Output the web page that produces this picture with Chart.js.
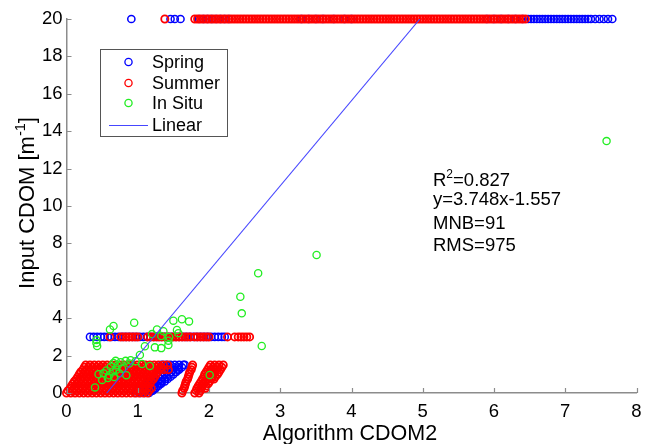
<!DOCTYPE html>
<html>
<head>
<meta charset="utf-8">
<script src="https://cdn.jsdelivr.net/npm/chart.js@4.4.1/dist/chart.umd.min.js"></script>
<style>
  body { margin: 0; background: #fff; }
  canvas { display: block; }
</style>
</head>
<body>
<canvas id="cdomChart" width="645" height="444"></canvas>
<script>
// tick labels
const xTicks = [0, 1, 2, 3, 4, 5, 6, 7, 8];
const yTicks = [0, 2, 4, 6, 8, 10, 12, 14, 16, 18, 20];

// Spring: row at 20, row at 3, and the low band (levels below)
const springTopX = [0.91, 1.46, 1.52, 1.60, 1.86, 1.92, 1.98, 2.04, 2.10, 2.16, 2.22, 2.28, 3.30, 3.40, 3.50, 3.60, 3.75, 3.90, 4.00,
  5.90, 6.00, 6.10, 6.20, 6.30, 6.40, 6.48, 6.52, 6.56, 6.60, 6.64, 6.68, 6.72, 6.76, 6.80, 6.84, 6.88, 6.92, 6.96, 7.00,
  7.04, 7.08, 7.12, 7.16, 7.20, 7.24, 7.28, 7.32, 7.36, 7.42, 7.48, 7.54, 7.60, 7.66];
const springRow3X = [0.33, 0.38, 0.43, 0.48, 0.53, 0.58, 0.63, 0.68, 0.73, 0.78, 0.83, 0.88, 0.93, 0.98, 1.03, 1.08, 1.13, 1.18,
  1.23, 1.28, 1.33, 1.38, 1.43, 1.48, 1.53, 1.58, 1.63, 1.68, 1.73, 1.78, 1.83, 1.88, 1.93, 1.98, 2.03, 2.08, 2.13, 2.18, 2.22];

const bandLevels = [0, 0.125, 0.25, 0.375, 0.5, 0.625, 0.75, 0.875, 1.0, 1.125, 1.25, 1.375, 1.5];
const springBandX = [
  [0.98, 1.04, 1.10, 1.16],
  [1.01, 1.07, 1.13, 1.19, 1.21],
  [1.05, 1.11, 1.17, 1.23, 1.25],
  [1.09, 1.15, 1.21, 1.27, 1.29],
  [1.13, 1.19, 1.25, 1.31, 1.33],
  [1.16, 1.22, 1.28, 1.34, 1.38],
  [1.20, 1.26, 1.32, 1.38, 1.42],
  [1.23, 1.29, 1.35, 1.41, 1.46],
  [1.26, 1.32, 1.38, 1.44, 1.50],
  [1.29, 1.35, 1.41, 1.47, 1.53, 1.54],
  [1.32, 1.38, 1.44, 1.50, 1.56, 1.58],
  [1.33, 1.39, 1.45, 1.51, 1.57, 1.62],
  [1.34, 1.40, 1.46, 1.52, 1.58, 1.64, 1.66]
];

// Summer
const summerTopX = [1.38, 1.80, 1.84, 1.88, 1.92, 1.96, 2.00, 2.04, 2.08, 2.12, 2.16, 2.20, 2.24, 2.28, 2.32, 2.36, 2.40, 2.44,
  2.48, 2.52, 2.56, 2.60, 2.64, 2.68, 2.72, 2.76, 2.80, 2.84, 2.88, 2.92, 2.96, 3.00, 3.04, 3.08, 3.12, 3.16, 3.20, 3.24,
  3.28, 3.32, 3.36, 3.40, 3.44, 3.48, 3.52, 3.56, 3.60, 3.64, 3.68, 3.72, 3.76, 3.80, 3.84, 3.88, 3.92, 3.96, 4.00, 4.04,
  4.08, 4.12, 4.16, 4.20, 4.24, 4.28, 4.32, 4.36, 4.40, 4.44, 4.48, 4.52, 4.56, 4.60, 4.64, 4.68, 4.72, 4.76, 4.80, 4.84,
  4.88, 4.92, 4.96, 5.00, 5.04, 5.08, 5.12, 5.16, 5.20, 5.24, 5.28, 5.32, 5.36, 5.40, 5.44, 5.48, 5.52, 5.56, 5.60, 5.64,
  5.68, 5.72, 5.76, 5.80, 5.84, 5.88, 5.92, 5.96, 6.00, 6.04, 6.08, 6.12, 6.16, 6.20, 6.24, 6.28, 6.32, 6.36, 6.40, 6.44];
const summerRow3X = [0.61, 0.76, 0.80, 0.84, 0.88, 0.92, 0.96, 1.00, 1.14, 1.18, 1.22, 1.26, 1.30, 1.34, 1.38, 1.42, 1.46,
  1.50, 1.54, 1.58, 1.62, 1.66, 1.70, 1.74, 1.80, 1.84, 1.88, 1.92, 1.96, 2.00, 2.26, 2.36, 2.41, 2.45, 2.49, 2.53, 2.57];
const summerBandX = [
  [0.00, 0.06, 0.12, 0.18, 0.24, 0.30, 0.36, 0.42, 0.48, 0.54, 0.60, 0.66, 0.72, 0.78, 0.84, 0.90, 0.96, 1.02, 1.08, 1.14, 1.62, 1.80, 1.86],
  [0.02, 0.08, 0.14, 0.20, 0.26, 0.32, 0.38, 0.44, 0.50, 0.56, 0.62, 0.68, 0.74, 0.80, 0.86, 0.92, 0.98, 1.04, 1.10, 1.16, 1.63, 1.82, 1.88],
  [0.05, 0.11, 0.17, 0.23, 0.29, 0.35, 0.41, 0.47, 0.53, 0.59, 0.65, 0.71, 0.77, 0.83, 0.89, 0.95, 1.01, 1.07, 1.13, 1.19, 1.65, 1.83, 1.89, 1.95],
  [0.07, 0.13, 0.19, 0.25, 0.31, 0.37, 0.43, 0.49, 0.55, 0.61, 0.67, 0.73, 0.79, 0.85, 0.91, 0.97, 1.03, 1.09, 1.15, 1.66, 1.85, 1.91, 1.96],
  [0.09, 0.15, 0.21, 0.27, 0.33, 0.39, 0.45, 0.51, 0.57, 0.63, 0.69, 0.75, 0.81, 0.87, 0.93, 0.99, 1.05, 1.11, 1.17, 1.67, 1.87, 1.93, 1.99],
  [0.11, 0.17, 0.23, 0.29, 0.35, 0.41, 0.47, 0.53, 0.59, 0.65, 0.71, 0.77, 0.83, 0.89, 0.95, 1.01, 1.07, 1.13, 1.19, 1.68, 1.89, 1.95, 2.01],
  [0.14, 0.20, 0.26, 0.32, 0.38, 0.44, 0.50, 0.56, 0.62, 0.68, 0.74, 0.80, 0.86, 0.92, 0.98, 1.04, 1.10, 1.16, 1.22, 1.70, 1.91, 1.97, 2.03, 2.07],
  [0.16, 0.22, 0.28, 0.34, 0.40, 0.46, 0.52, 0.58, 0.64, 0.70, 0.76, 0.82, 0.88, 0.94, 1.00, 1.06, 1.12, 1.18, 1.24, 1.71, 1.93, 1.99, 2.05, 2.09],
  [0.18, 0.24, 0.30, 0.36, 0.42, 0.48, 0.54, 0.60, 0.66, 0.72, 0.78, 0.84, 0.90, 0.96, 1.02, 1.08, 1.14, 1.20, 1.26, 1.72, 1.94, 2.00, 2.06, 2.12],
  [0.20, 0.26, 0.32, 0.38, 0.44, 0.50, 0.56, 0.62, 0.68, 0.74, 0.80, 0.86, 0.92, 0.98, 1.04, 1.10, 1.16, 1.22, 1.28, 1.73, 1.96, 2.02, 2.08, 2.14],
  [0.23, 0.29, 0.35, 0.41, 0.47, 0.53, 0.59, 0.65, 0.71, 0.77, 0.83, 0.89, 0.95, 1.01, 1.07, 1.13, 1.19, 1.25, 1.31, 1.37, 1.43, 1.75, 1.98, 2.04, 2.10, 2.16],
  [0.25, 0.31, 0.37, 0.43, 0.49, 0.55, 0.61, 0.67, 0.73, 0.79, 0.85, 0.91, 0.97, 1.03, 1.09, 1.15, 1.21, 1.27, 1.33, 1.76, 2.00, 2.06, 2.12, 2.18],
  [0.27, 0.33, 0.39, 0.45, 0.51, 0.57, 0.63, 0.69, 0.75, 0.81, 0.87, 0.93, 0.99, 1.05, 1.11, 1.17, 1.23, 1.29, 1.36, 1.42, 1.77, 2.02, 2.08, 2.14, 2.20]
];

// In Situ
const inSituX = [0.40, 0.42, 0.42, 0.43, 0.61, 0.66, 0.95, 1.27, 1.44, 1.43, 1.50, 1.62, 1.72, 1.55, 1.57, 1.43, 1.24, 1.33,
  1.10, 1.03, 2.44, 2.46, 2.74, 2.69, 3.51, 7.58, 2.01, 1.20, 1.33, 1.36,
  0.69, 0.76, 0.83, 0.90, 0.97, 0.88, 0.72, 0.62, 0.56, 0.65, 0.70, 0.60, 0.52, 0.45, 0.58, 0.67, 0.78, 0.84, 0.66, 0.50, 0.74, 1.17, 1.06];
const inSituY = [0.30, 2.83, 2.67, 2.51, 3.40, 3.58, 3.76, 3.40, 3.00, 2.80, 3.87, 3.94, 3.83, 3.37, 3.20, 2.57, 2.44, 2.40,
  2.50, 2.03, 5.15, 4.26, 2.51, 6.40, 7.38, 13.47, 0.96, 3.15, 3.05, 3.30,
  1.72, 1.65, 1.72, 1.75, 1.70, 1.58, 1.50, 1.40, 1.20, 1.15, 1.25, 0.95, 1.05, 1.00, 0.80, 0.85, 1.30, 0.95, 1.60, 0.70, 1.05, 1.45, 1.55];

// fitted line as drawn
const linearX = [0.565, 4.96];
const linearY = [0, 20];

const statLines = ['=0.827', 'y=3.748x-1.557', 'MNB=91', 'RMS=975'];

const FONT = "'Liberation Sans', Arial, sans-serif";

const toPts = (xs, y) => xs.map(x => ({ x: x, y: y }));
const bandPts = rows => bandLevels.flatMap((lv, i) => toPts(rows[i], lv));

const springData = [...toPts(springTopX, 20), ...toPts(springRow3X, 3), ...bandPts(springBandX)];
const summerData = [...toPts(summerTopX, 20), ...toPts(summerRow3X, 3), ...bandPts(summerBandX)];
const inSituData = inSituX.map((x, i) => ({ x: x, y: inSituY[i] }));
const linearData = linearX.map((x, i) => ({ x: x, y: linearY[i] }));

const BLUE = '#0000ff', RED = '#ff0000', GREEN = '#22ee22', LINE = '#4646ff';
const R = 3.6, BW = 1.3;

const decor = {
  id: 'decor',
  afterDraw(chart) {
    const ctx = chart.ctx;
    const xs = chart.scales.x, ys = chart.scales.y;
    ctx.save();
    // inward ticks
    ctx.strokeStyle = '#8c8c8c';
    ctx.lineWidth = 1.2;
    ctx.beginPath();
    xTicks.forEach(v => {
      const p = Math.round(xs.getPixelForValue(v)) + 0.5;
      ctx.moveTo(p, ys.bottom); ctx.lineTo(p, ys.bottom - 5);
    });
    yTicks.forEach(v => {
      const p = Math.round(ys.getPixelForValue(v)) + 0.5;
      ctx.moveTo(xs.left, p); ctx.lineTo(xs.left + 5, p);
    });
    ctx.stroke();

    // legend box
    ctx.fillStyle = '#fff';
    ctx.fillRect(100.5, 49.5, 127, 87);
    ctx.strokeStyle = '#555';
    ctx.lineWidth = 1;
    ctx.strokeRect(100.5, 49.5, 127, 87);
    const items = [['Spring', BLUE, 62], ['Summer', RED, 83], ['In Situ', GREEN, 103], ['Linear', LINE, 125]];
    ctx.font = '18px ' + FONT;
    ctx.textBaseline = 'middle';
    items.forEach(([label, col, y], i) => {
      ctx.strokeStyle = col;
      ctx.beginPath();
      if (i < 3) {
        ctx.lineWidth = BW;
        ctx.arc(128.5, y, R, 0, Math.PI * 2);
      } else {
        ctx.lineWidth = 1.1;
        ctx.moveTo(109, y + 0.5); ctx.lineTo(148, y + 0.5);
      }
      ctx.stroke();
      ctx.fillStyle = '#000';
      ctx.fillText(label, 152, y + 1);
    });

    // stats text
    ctx.textBaseline = 'alphabetic';
    ctx.font = '18.5px ' + FONT;
    ctx.fillText('R', 433, 186);
    const rw = ctx.measureText('R').width;
    ctx.font = '12px ' + FONT;
    ctx.fillText('2', 433 + rw, 178);
    const sw = ctx.measureText('2').width;
    ctx.font = '18.5px ' + FONT;
    ctx.fillText(statLines[0], 433 + rw + sw, 186);
    ctx.fillText(statLines[1], 433, 205);
    ctx.fillText(statLines[2], 433, 229);
    ctx.fillText(statLines[3], 433, 251);

    // x title
    ctx.textAlign = 'center';
    ctx.font = '21.5px ' + FONT;
    ctx.fillText('Algorithm CDOM2', 350, 440);

    // y title with superscript
    ctx.translate(34, 203);
    ctx.rotate(-Math.PI / 2);
    ctx.textAlign = 'left';
    const a = 'Input CDOM [m', b = '-1', c = ']';
    ctx.font = '22px ' + FONT;
    const wa = ctx.measureText(a).width, wc = ctx.measureText(c).width;
    ctx.font = '14.5px ' + FONT;
    const wb = ctx.measureText(b).width;
    const x0 = -(wa + wb + wc) / 2;
    ctx.font = '22px ' + FONT;
    ctx.fillText(a, x0, 0);
    ctx.font = '14.5px ' + FONT;
    ctx.fillText(b, x0 + wa, -9);
    ctx.font = '22px ' + FONT;
    ctx.fillText(c, x0 + wa + wb, 0);
    ctx.restore();
  }
};

const ctx = document.getElementById('cdomChart').getContext('2d');
const chart = new Chart(ctx, {
  type: 'scatter',
  data: {
    datasets: [
      { label: 'Spring', data: springData, borderColor: BLUE, backgroundColor: 'rgba(0,0,0,0)',
        pointRadius: R, borderWidth: 1.5, order: 3, clip: false },
      { label: 'Summer', data: summerData, borderColor: RED, backgroundColor: 'rgba(0,0,0,0)',
        pointRadius: R, borderWidth: 1.8, order: 2, clip: false },
      { label: 'In Situ', data: inSituData, borderColor: GREEN, backgroundColor: 'rgba(0,0,0,0)',
        pointRadius: R, borderWidth: BW, order: 1, clip: false },
      { label: 'Linear', type: 'line', data: linearData, borderColor: LINE, borderWidth: 1.1,
        pointRadius: 0, fill: false, order: 0 }
    ]
  },
  options: {
    responsive: false,
    animation: false,
    layout: { padding: { top: 19, right: 8.5, left: 0, bottom: 0 } },
    plugins: { legend: { display: false }, tooltip: { enabled: false } },
    scales: {
      x: {
        type: 'linear', min: 0, max: 8,
        afterBuildTicks: s => { s.ticks = xTicks.map(v => ({ value: v })); },
        afterFit: s => { s.height = 51; s.paddingLeft = 0; s.paddingRight = 0; },
        grid: { display: false, drawTicks: false },
        border: { color: '#8c8c8c', width: 1.5 },
        ticks: { color: '#000', font: { size: 18.5, family: FONT }, padding: 8, maxRotation: 0 }
      },
      y: {
        type: 'linear', min: 0, max: 20,
        afterBuildTicks: s => { s.ticks = yTicks.map(v => ({ value: v })); },
        afterFit: s => { s.width = 66.5; s.paddingTop = 0; s.paddingBottom = 0; },
        grid: { display: false, drawTicks: false },
        border: { color: '#8c8c8c', width: 1.5 },
        ticks: { color: '#000', font: { size: 18.5, family: FONT }, padding: 4 }
      }
    }
  },
  plugins: [decor]
});
</script>
</body>
</html>
